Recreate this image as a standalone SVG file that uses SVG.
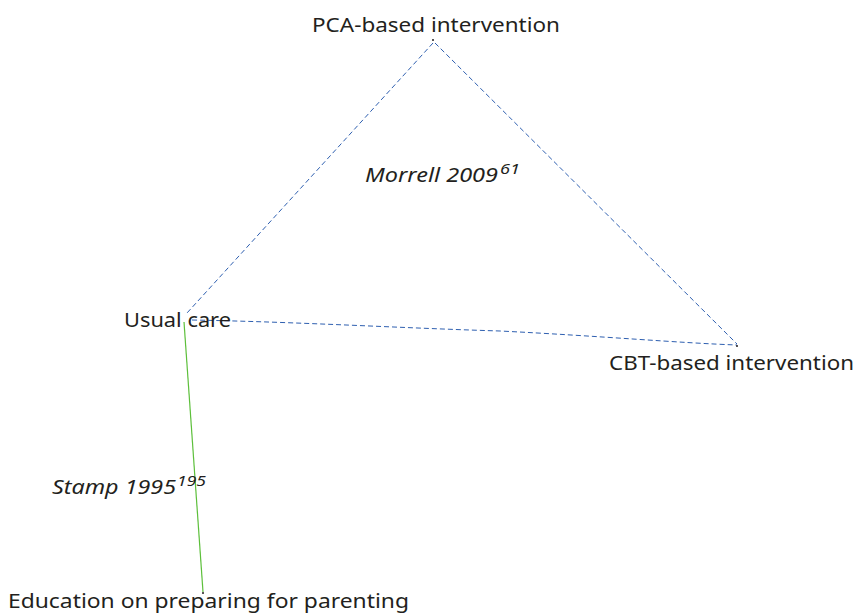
<svg xmlns="http://www.w3.org/2000/svg" width="856" height="616" viewBox="0 0 856 616">
<style>
.lbl{font-family:"Noto Sans","Open Sans","Liberation Sans",sans-serif;font-size:20px;fill:#231f20}
.it{font-style:italic}
.sup{font-family:"Noto Sans","Open Sans","Liberation Sans",sans-serif;font-size:14px;font-style:italic;fill:#231f20}
.blue{fill:none;stroke:#2e5fb0;stroke-width:1;stroke-dasharray:5,3}
.green{fill:none;stroke:#5cbf3a;stroke-width:1.2}
.dot{fill:#231f20}
</style>
<rect width="856" height="616" fill="#fff"/>
<g id="connectors">
<path class="blue" d="M433,43 L187,313"/>
<path class="blue" d="M435,43 L737,344"/>
<path class="blue" d="M192,320 C300,322 400,328 500,331 C600,336 680,343 737,345"/>
<path class="green" d="M184,322 L203,592"/>
<text class="lbl it" x="365" y="182" textLength="133" lengthAdjust="spacingAndGlyphs">Morrell 2009</text>
<text class="sup" x="500" y="174" textLength="20" lengthAdjust="spacingAndGlyphs">61</text>
<text class="lbl it" x="52" y="494" textLength="124" lengthAdjust="spacingAndGlyphs">Stamp 1995</text>
<text class="sup" x="177" y="486" textLength="29" lengthAdjust="spacingAndGlyphs">195</text>
</g>
<g id="pca">
<circle class="dot" cx="433" cy="40" r="1"/>
<text class="lbl" x="312" y="32" textLength="248" lengthAdjust="spacingAndGlyphs">PCA-based intervention</text>
</g>
<g id="usual">
<text class="lbl" x="124" y="327" textLength="107" lengthAdjust="spacingAndGlyphs">Usual care</text>
</g>
<g id="cbt">
<circle class="dot" cx="737" cy="346" r="1"/>
<text class="lbl" x="609" y="370" textLength="245" lengthAdjust="spacingAndGlyphs">CBT-based intervention</text>
</g>
<g id="education">
<circle class="dot" cx="203" cy="593" r="1"/>
<text class="lbl" x="8" y="608" textLength="401" lengthAdjust="spacingAndGlyphs">Education on preparing for parenting</text>
</g>
</svg>
